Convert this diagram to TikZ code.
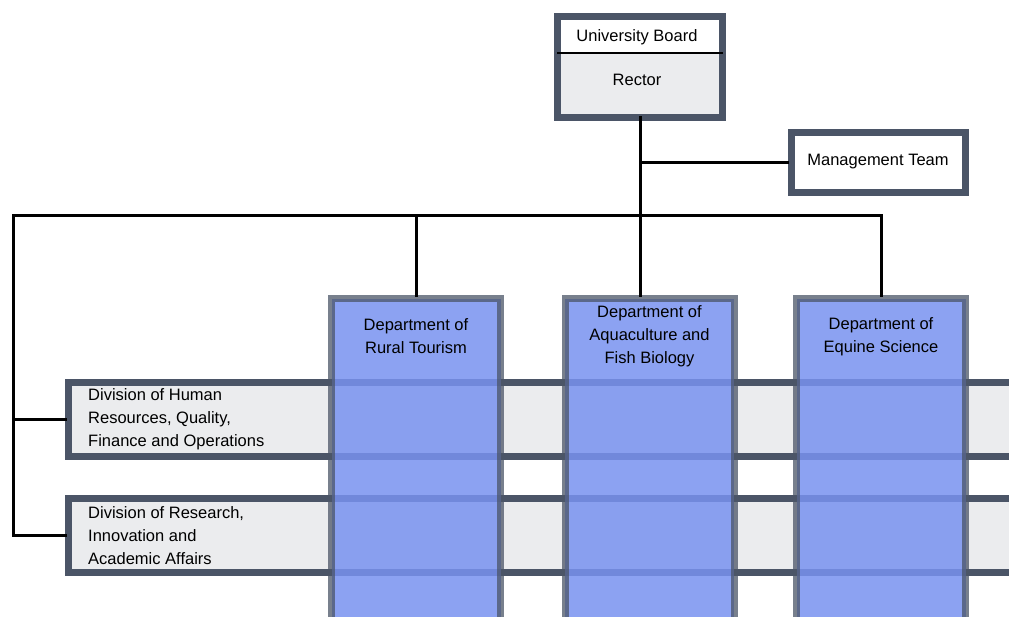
\documentclass[tikz,border=0pt]{standalone}
\usepackage{fontspec}
\setmainfont{Liberation Sans}
\usetikzlibrary{positioning,calc}
\definecolor{frameslate}{RGB}{75,85,103}
\definecolor{panelgray}{RGB}{235,236,238}
\definecolor{deptblue}{RGB}{120,146,240}
\tikzstyle{frame}=[draw=frameslate,line width=7pt]
\tikzstyle{boxtext}=[font=\fontsize{16.5}{23}\selectfont,align=center,inner sep=0pt]
\tikzstyle{divbox}=[frame,fill=panelgray,minimum width=960pt,minimum height=74pt,anchor=west]
\tikzstyle{deptbox}=[draw=frameslate,draw opacity=0.75,line width=7pt,fill=deptblue,fill opacity=0.85,minimum width=169pt,minimum height=340pt,anchor=north]
\tikzstyle{conn}=[line width=3pt,line cap=rect]
\newcommand{\drawdept}[3]{

\node[deptbox] (#1) at (#2,295) {};
\node[boxtext] (#1text) at ([yshift=-41.5pt]#1.north) {#3};

}

\begin{document}
\begin{tikzpicture}[x=1pt,y=-1pt]
	\useasboundingbox (0,0) rectangle (1009,616);
	\clip (0,0) rectangle (1009,616);
	% top of the tree
	\node[fill=white,minimum width=165pt,minimum height=36.5pt,inner sep=0pt,anchor=north] (board) at (640,16.5) {};
	\node[fill=panelgray,minimum width=165pt,minimum height=63.5pt,inner sep=0pt,anchor=north] (rector) at (board.south) {};
	\draw[frame] (board.north west) rectangle (rector.south east);
	\draw[line width=2pt] (board.south west) -- (board.south east);
	\node[boxtext] (boardtext) at (637,37) {University Board};
	\node[boxtext] (rectortext) at (637,80) {Rector};
	\node[frame,fill=white,minimum width=174pt,minimum height=60pt,boxtext] (mgmt) at (878,162) {Management Team};
	% divisions
	\node[divbox] (hrdiv) at (65,419.5) {};
	\node[boxtext,align=left,anchor=west] (hrtext) at (88,419.5) {Division of Human\\Resources, Quality,\\Finance and Operations};
	\node[divbox] (resdiv) at (65,535.5) {};
	\node[boxtext,align=left,anchor=west] (restext) at (88,535.5) {Division of Research,\\Innovation and\\Academic Affairs};
	% departments
	\drawdept{rural}{416}{Department of\\Rural Tourism}
	\drawdept{aqua}{649.5}{Department of\\Aquaculture and\\Fish Biology}
	\drawdept{equine}{881}{Department of\\Equine Science}
	% connectors
	\coordinate (bus) at (640,215);
	\coordinate (corner) at (13,215);
	\draw[conn] (rector.south) -- (rector.south |- aqua.north);
	\draw[conn] (rector.south |- mgmt.west) -- (mgmt.west);
	\draw[conn] (equine.north) -- (equine.north |- bus) -- (corner) |- (resdiv.west);
	\draw[conn] (rural.north |- bus) -- (rural.north);
	\draw[conn] (corner |- hrdiv.west) -- (hrdiv.west);
\end{tikzpicture}
\end{document}
